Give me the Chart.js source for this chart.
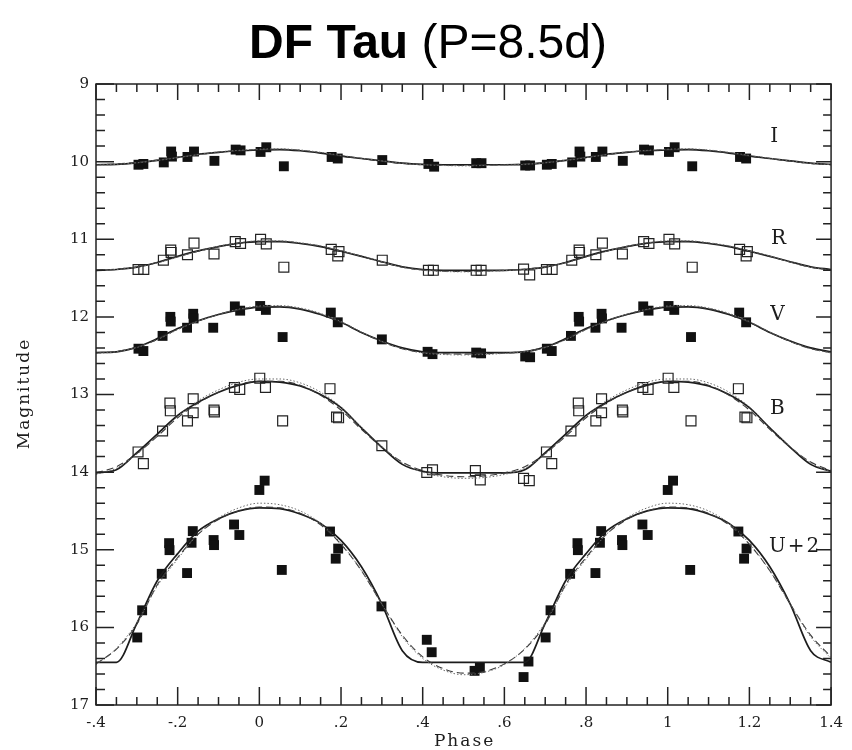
<!DOCTYPE html>
<html>
<head>
<meta charset="utf-8">
<title>DF Tau light curves</title>
<script src="https://cdn.jsdelivr.net/npm/chart.js@4.4.1/dist/chart.umd.min.js"></script>
<style>
  html, body { margin: 0; padding: 0; background: #fff; }
</style>
</head>
<body>
<canvas id="lightcurve" width="852" height="750"></canvas>
<script>
// Observed points, one cycle of phase per band (folded copies are added below)
const phaseI = [0.003, 0.017, 0.060, 0.177, 0.192, 0.301, 0.414, 0.428, 0.531, 0.544, 0.651, 0.663, 0.704, 0.716, 0.766, 0.784, 0.786, 0.824, 0.840, 0.890, 0.942, 0.954];
const magI   = [9.875, 9.815, 10.06, 9.94, 9.96, 9.98, 10.03, 10.065, 10.02, 10.02, 10.05, 10.05, 10.04, 10.03, 10.01, 9.87, 9.935, 9.94, 9.87, 9.99, 9.845, 9.855];

const phaseR = [0.003, 0.017, 0.060, 0.176, 0.192, 0.195, 0.301, 0.414, 0.426, 0.531, 0.543, 0.647, 0.662, 0.703, 0.717, 0.765, 0.783, 0.784, 0.824, 0.840, 0.889, 0.941, 0.954];
const magR   = [11.00, 11.06, 11.36, 11.13, 11.215, 11.16, 11.27, 11.40, 11.40, 11.40, 11.40, 11.385, 11.46, 11.39, 11.39, 11.27, 11.14, 11.17, 11.20, 11.05, 11.19, 11.03, 11.055];

const phaseV = [0.002, 0.016, 0.057, 0.175, 0.192, 0.300, 0.412, 0.424, 0.531, 0.543, 0.651, 0.663, 0.704, 0.716, 0.763, 0.782, 0.783, 0.823, 0.838, 0.839, 0.887, 0.940, 0.953];
const magV   = [11.86, 11.91, 12.26, 11.945, 12.07, 12.29, 12.45, 12.48, 12.46, 12.47, 12.51, 12.52, 12.41, 12.44, 12.245, 12.00, 12.06, 12.14, 11.96, 12.02, 12.14, 11.865, 11.92];

const phaseB = [0.001, 0.015, 0.057, 0.173, 0.189, 0.194, 0.300, 0.410, 0.424, 0.529, 0.541, 0.647, 0.661, 0.703, 0.716, 0.763, 0.781, 0.782, 0.824, 0.838, 0.838, 0.889, 0.890, 0.939, 0.952];
const magB   = [12.79, 12.91, 13.34, 12.925, 13.29, 13.30, 13.66, 14.005, 13.97, 13.98, 14.10, 14.08, 14.11, 13.74, 13.89, 13.47, 13.11, 13.21, 13.34, 13.055, 13.235, 13.20, 13.225, 12.91, 12.935];

const phaseU = [0.000, 0.013, 0.055, 0.173, 0.187, 0.193, 0.299, 0.410, 0.422, 0.527, 0.540, 0.647, 0.659, 0.701, 0.713, 0.761, 0.779, 0.780, 0.823, 0.834, 0.837, 0.888, 0.889, 0.938, 0.951];
const magU   = [14.23, 14.11, 15.26, 14.765, 15.115, 14.985, 15.73, 16.16, 16.32, 16.56, 16.52, 16.64, 16.44, 16.13, 15.78, 15.31, 14.915, 15.005, 15.30, 14.91, 14.76, 14.875, 14.94, 14.675, 14.81];

// Model light curves over one cycle (solid, dashed, dotted fits)
const modelPhase = [0, 0.05, 0.10, 0.15, 0.20, 0.25, 0.30, 0.35, 0.40, 0.45, 0.50, 0.55, 0.60, 0.65, 0.70, 0.75, 0.80, 0.85, 0.90, 0.95];

const modelISolid  = [9.85, 9.845, 9.86, 9.89, 9.93, 9.96, 9.99, 10.02, 10.035, 10.04, 10.04, 10.04, 10.04, 10.035, 10.015, 9.985, 9.945, 9.905, 9.88, 9.86];
const modelIDashed = [9.845, 9.84, 9.855, 9.885, 9.925, 9.96, 9.995, 10.025, 10.04, 10.045, 10.05, 10.045, 10.04, 10.03, 10.01, 9.98, 9.945, 9.91, 9.88, 9.86];
const modelIDotted = [9.84, 9.835, 9.85, 9.88, 9.92, 9.955, 9.99, 10.02, 10.04, 10.05, 10.055, 10.05, 10.045, 10.035, 10.015, 9.985, 9.95, 9.91, 9.875, 9.855];

const modelRSolid  = [11.03, 11.03, 11.055, 11.095, 11.155, 11.22, 11.29, 11.355, 11.39, 11.40, 11.40, 11.40, 11.40, 11.39, 11.36, 11.30, 11.22, 11.15, 11.095, 11.05];
const modelRDashed = [11.025, 11.025, 11.05, 11.09, 11.15, 11.22, 11.295, 11.36, 11.395, 11.41, 11.415, 11.41, 11.40, 11.385, 11.355, 11.30, 11.225, 11.155, 11.095, 11.05];
const modelRDotted = [11.02, 11.02, 11.045, 11.085, 11.15, 11.215, 11.29, 11.36, 11.40, 11.415, 11.42, 11.415, 11.405, 11.39, 11.36, 11.305, 11.23, 11.155, 11.09, 11.045];

const modelVSolid  = [11.875, 11.87, 11.90, 11.97, 12.07, 12.20, 12.31, 12.40, 12.45, 12.46, 12.46, 12.46, 12.46, 12.45, 12.39, 12.28, 12.15, 12.05, 11.97, 11.91];
const modelVDashed = [11.87, 11.865, 11.895, 11.965, 12.07, 12.20, 12.32, 12.41, 12.46, 12.475, 12.48, 12.475, 12.465, 12.445, 12.39, 12.29, 12.16, 12.055, 11.97, 11.905];
const modelVDotted = [11.86, 11.855, 11.885, 11.955, 12.06, 12.195, 12.315, 12.41, 12.465, 12.485, 12.49, 12.485, 12.47, 12.45, 12.395, 12.295, 12.165, 12.055, 11.965, 11.90];

const modelBSolid  = [12.83, 12.84, 12.89, 13.00, 13.17, 13.43, 13.68, 13.90, 13.99, 14.01, 14.01, 14.01, 14.01, 13.97, 13.75, 13.51, 13.27, 13.10, 12.97, 12.88];
const modelBDashed = [12.83, 12.83, 12.88, 13.01, 13.20, 13.45, 13.68, 13.87, 13.98, 14.04, 14.06, 14.05, 14.01, 13.93, 13.76, 13.54, 13.30, 13.11, 12.97, 12.87];
const modelBDotted = [12.80, 12.80, 12.85, 12.97, 13.16, 13.42, 13.67, 13.88, 14.00, 14.06, 14.08, 14.07, 14.03, 13.95, 13.77, 13.53, 13.28, 13.08, 12.94, 12.84];

const modelUSolid  = [14.46, 14.47, 14.54, 14.66, 14.88, 15.22, 15.70, 16.30, 16.45, 16.45, 16.45, 16.45, 16.45, 16.45, 15.95, 15.40, 15.05, 14.76, 14.60, 14.50];
const modelUDashed = [14.45, 14.46, 14.53, 14.68, 14.93, 15.27, 15.70, 16.10, 16.38, 16.53, 16.59, 16.57, 16.47, 16.28, 15.96, 15.45, 15.10, 14.80, 14.61, 14.50];
const modelUDotted = [14.40, 14.42, 14.50, 14.66, 14.92, 15.27, 15.70, 16.12, 16.40, 16.55, 16.61, 16.58, 16.48, 16.27, 15.94, 15.47, 15.12, 14.80, 14.59, 14.46];

const bandNames = ['I', 'R', 'V', 'B', 'U+2'];
const bandLabelPhase = [1.263, 1.274, 1.271, 1.271, 1.312];
const bandLabelMag = [9.68, 10.99, 11.975, 13.18, 14.96];

const INK = '#1c1c1c';
const SERIF = '"DejaVu Serif", serif';
const TITLE_FONT = '"Liberation Sans", Arial, sans-serif';

// Repeat observations so the plotted window runs from phase -0.3 to 1.2
function foldPoints(phases, mags) {
    const pts = [];
    phases.forEach(function(p, i) {
        [p - 1, p, p + 1].forEach(function(x) {
            if (x >= -0.3 - 1e-9 && x <= 1.2 + 1e-9) pts.push({ x: x, y: mags[i] });
        });
    });
    return pts;
}

// Model curves repeat with period 1 over the whole axis (-0.4 .. 1.4)
function foldCurve(mags) {
    const pts = [];
    [-1, 0, 1].forEach(function(k) {
        modelPhase.forEach(function(p, i) {
            const x = p + k;
            if (x >= -0.4 - 1e-9 && x <= 1.4 + 1e-9) pts.push({ x: x, y: mags[i] });
        });
    });
    return pts.sort(function(a, b) { return a.x - b.x; });
}

function curveSet(solid, dashed, dotted) {
    const base = { showLine: true, pointRadius: 0, fill: false, cubicInterpolationMode: 'monotone' };
    return [
        Object.assign({ data: foldCurve(dotted), borderColor: '#6a6a6a', borderWidth: 1, borderDash: [1.5, 2] }, base),
        Object.assign({ data: foldCurve(dashed), borderColor: '#3a3a3a', borderWidth: 1.1, borderDash: [7, 4] }, base),
        Object.assign({ data: foldCurve(solid), borderColor: INK, borderWidth: 1.7 }, base)
    ];
}

function pointSet(phases, mags, open) {
    return {
        data: foldPoints(phases, mags),
        showLine: false,
        pointStyle: 'rect',
        pointRadius: 7,
        pointBackgroundColor: open ? 'rgba(255,255,255,0)' : '#111',
        pointBorderColor: open ? '#222' : '#111',
        pointBorderWidth: open ? 1.2 : 0
    };
}

function phaseLabel(v) {
    const r = Math.round(v * 10) / 10;
    if (r === 0) return '0';
    let s = String(Math.abs(r));
    if (s.charAt(0) === '0') s = s.slice(1);
    return (r < 0 ? '-' : '') + s;
}

// Frame with inward ticks on all four sides
const frameTicks = {
    id: 'frameTicks',
    afterDatasetsDraw(chart) {
        const ctx = chart.ctx;
        const a = chart.chartArea;
        const x = chart.scales.x;
        const y = chart.scales.y;
        ctx.save();
        ctx.strokeStyle = '#222';
        ctx.lineWidth = 1.5;
        ctx.strokeRect(a.left, a.top, a.right - a.left, a.bottom - a.top);
        ctx.beginPath();
        for (let i = 0; i <= 36; i++) {
            const px = x.getPixelForValue(-0.4 + i * 0.05);
            const major = i % 4 === 0;
            ctx.moveTo(px, a.bottom);
            ctx.lineTo(px, a.bottom - (major ? 18 : 8));
            ctx.moveTo(px, a.top);
            ctx.lineTo(px, a.top + (major ? 16 : 8));
        }
        for (let i = 0; i <= 40; i++) {
            const py = y.getPixelForValue(9 + i * 0.2);
            const major = i % 5 === 0;
            ctx.moveTo(a.left, py);
            ctx.lineTo(a.left + (major ? 18 : 9), py);
            ctx.moveTo(a.right, py);
            ctx.lineTo(a.right - (major ? 15 : 8), py);
        }
        ctx.stroke();
        ctx.restore();
    }
};

// Title, axis titles and band names
const annotations = {
    id: 'annotations',
    afterDraw(chart) {
        const ctx = chart.ctx;
        const x = chart.scales.x;
        const y = chart.scales.y;
        const a = chart.chartArea;
        ctx.save();
        ctx.fillStyle = '#000';
        ctx.textBaseline = 'alphabetic';
        ctx.textAlign = 'left';
        ctx.font = 'bold 48px ' + TITLE_FONT;
        const w1 = ctx.measureText('DF Tau').width;
        ctx.font = '48px ' + TITLE_FONT;
        const w2 = ctx.measureText(' (P=8.5d)').width;
        const x0 = 428 - (w1 + w2) / 2;
        ctx.font = 'bold 48px ' + TITLE_FONT;
        ctx.fillText('DF Tau', x0, 58);
        ctx.font = '48px ' + TITLE_FONT;
        ctx.fillText(' (P=8.5d)', x0 + w1, 58);

        ctx.fillStyle = INK;
        ctx.textAlign = 'center';
        ctx.textBaseline = 'middle';
        ctx.letterSpacing = '2px';
        ctx.font = '17px ' + SERIF;
        ctx.fillText('Phase', (a.left + a.right) / 2 + 1, 742);
        ctx.save();
        ctx.translate(25, (a.top + a.bottom) / 2);
        ctx.rotate(-Math.PI / 2);
        ctx.fillText('Magnitude', 1, 0);
        ctx.restore();

        ctx.font = '20px ' + SERIF;
        bandNames.forEach(function(name, i) {
            ctx.fillText(name, x.getPixelForValue(bandLabelPhase[i]), y.getPixelForValue(bandLabelMag[i]));
        });
        ctx.restore();
    }
};

const datasets = [].concat(
    curveSet(modelISolid, modelIDashed, modelIDotted),
    curveSet(modelRSolid, modelRDashed, modelRDotted),
    curveSet(modelVSolid, modelVDashed, modelVDotted),
    curveSet(modelBSolid, modelBDashed, modelBDotted),
    curveSet(modelUSolid, modelUDashed, modelUDotted),
    [
        pointSet(phaseI, magI, false),
        pointSet(phaseR, magR, true),
        pointSet(phaseV, magV, false),
        pointSet(phaseB, magB, true),
        pointSet(phaseU, magU, false)
    ]
);

new Chart(document.getElementById('lightcurve').getContext('2d'), {
    type: 'scatter',
    data: { datasets: datasets },
    options: {
        responsive: false,
        animation: false,
        devicePixelRatio: 1,
        layout: { padding: { top: 84, right: 11, left: 0, bottom: 0 } },
        plugins: { legend: { display: false }, tooltip: { enabled: false } },
        scales: {
            x: {
                type: 'linear',
                min: -0.4,
                max: 1.4,
                grid: { display: false, drawTicks: false },
                border: { display: false },
                ticks: {
                    stepSize: 0.2,
                    autoSkip: false,
                    maxRotation: 0,
                    padding: 9,
                    color: INK,
                    font: { family: SERIF, size: 15 },
                    callback: function(v) { return phaseLabel(v); }
                },
                afterFit: function(scale) { scale.height = 45; }
            },
            y: {
                type: 'linear',
                reverse: true,
                min: 9,
                max: 17,
                grid: { display: false, drawTicks: false },
                border: { display: false },
                ticks: {
                    stepSize: 1,
                    padding: 7,
                    color: INK,
                    font: { family: SERIF, size: 15 }
                },
                afterFit: function(scale) { scale.width = 96; }
            }
        }
    },
    plugins: [frameTicks, annotations]
});
</script>
</body>
</html>
